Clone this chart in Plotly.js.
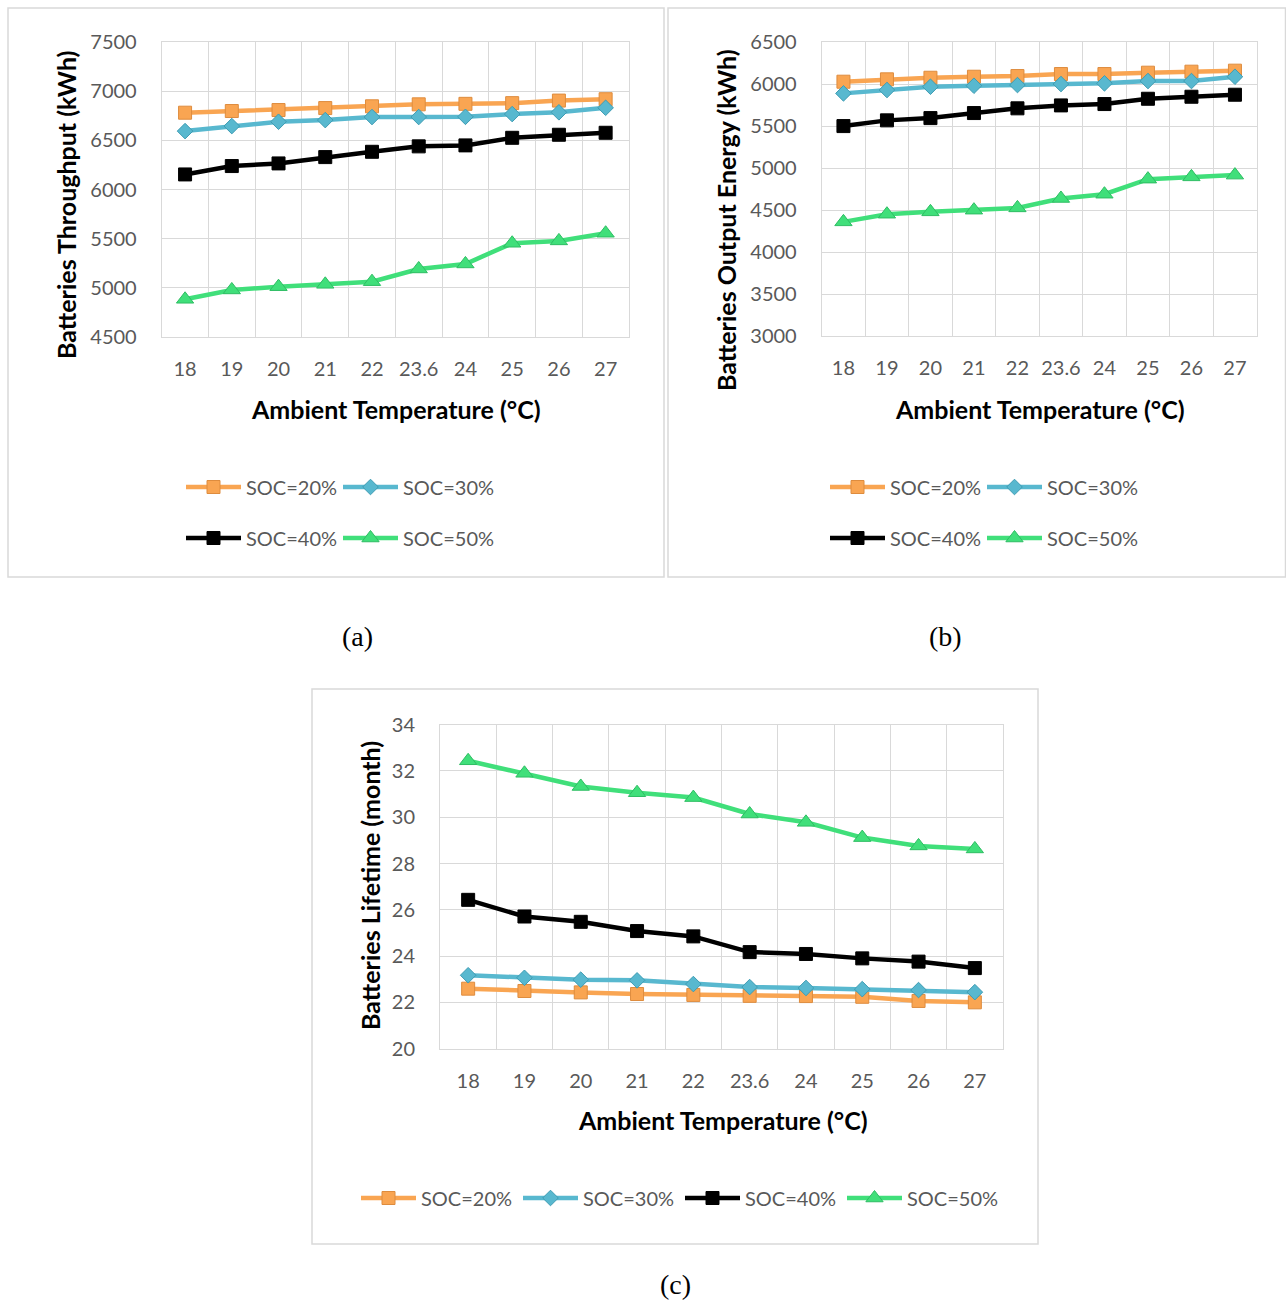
<!DOCTYPE html>
<html><head><meta charset="utf-8">
<script src="https://cdn.plot.ly/plotly-3.0.1.min.js"></script>
<style>html,body{margin:0;padding:0;background:#fff}</style>
</head><body><div id="chart" style="width:1286px;height:1301px"></div>
<script>
// ---- data ----
const temps = ['18','19','20','21','22','23.6','24','25','26','27'];
const seriesNames = ['SOC=20%','SOC=30%','SOC=40%','SOC=50%'];

const throughput20 = [6780, 6797, 6807, 6827, 6845, 6865, 6870, 6877, 6903, 6917];
const throughput30 = [6593, 6644, 6688, 6705, 6736, 6736, 6738, 6766, 6784, 6830];
const throughput40 = [6153, 6238, 6265, 6329, 6383, 6438, 6448, 6525, 6556, 6576];
const throughput50 = [4885, 4980, 5013, 5037, 5064, 5193, 5244, 5454, 5478, 5556];

const output20 = [6028, 6056, 6075, 6087, 6095, 6119, 6119, 6135, 6147, 6159];
const output30 = [5889, 5929, 5968, 5980, 5988, 6000, 6008, 6036, 6036, 6087];
const output40 = [5500, 5568, 5595, 5655, 5711, 5746, 5762, 5825, 5849, 5873];
const output50 = [4361, 4452, 4480, 4500, 4527, 4639, 4690, 4869, 4896, 4917];

const lifetime20 = [22.59, 22.49, 22.43, 22.36, 22.32, 22.28, 22.27, 22.24, 22.06, 22.00];
const lifetime30 = [23.17, 23.06, 22.98, 22.95, 22.79, 22.66, 22.62, 22.57, 22.53, 22.44];
const lifetime40 = [26.43, 25.71, 25.48, 25.08, 24.85, 24.17, 24.09, 23.90, 23.76, 23.48];
const lifetime50 = [32.44, 31.90, 31.33, 31.06, 30.85, 30.14, 29.78, 29.12, 28.76, 28.63];

const titleA = 'Batteries Throughput (kWh)';
const titleB = 'Batteries Output Energy (kWh)';
const titleC = 'Batteries Lifetime (month)';
const xTitle = 'Ambient Temperature (°C)';

// ---- layout helpers ----
const W = 1286, H = 1301;
const px = x => x / W, py = y => (H - y) / H;
const FONT = 'Lato, "Open Sans", sans-serif';
const GRID = '#D9D9D9';
const TICK = '#595959';

const styles = [
  {color:'#F9A552', symbol:'square', size:13, edge:'#DE8C3E'},
  {color:'#58B8CF', symbol:'diamond', size:12, edge:'#3E9CB3'},
  {color:'#000000', symbol:'square', size:13, edge:'#000000'},
  {color:'#40DF7A', symbol:'triangle-up', size:15, edge:'#2EBD63'}
];

function tr(i, y, xa, ya, legend, showlegend) {
  const s = styles[i];
  return {
    type:'scatter', mode:'lines+markers', x: temps, y: y, name: seriesNames[i],
    xaxis: xa, yaxis: ya, legend: legend, showlegend: showlegend,
    line:{color:s.color, width:4.5},
    marker:{symbol:s.symbol, size:s.size, color:s.color, line:{color:s.edge, width:1}}
  };
}

const data = [
  tr(0, throughput20, 'x', 'y', 'legend', true),
  tr(1, throughput30, 'x', 'y', 'legend', true),
  tr(2, throughput40, 'x', 'y', 'legend2', true),
  tr(3, throughput50, 'x', 'y', 'legend2', true),
  tr(0, output20, 'x2', 'y2', 'legend3', true),
  tr(1, output30, 'x2', 'y2', 'legend3', true),
  tr(2, output40, 'x2', 'y2', 'legend4', true),
  tr(3, output50, 'x2', 'y2', 'legend4', true),
  tr(0, lifetime20, 'x3', 'y3', 'legend5', true),
  tr(1, lifetime30, 'x3', 'y3', 'legend5', true),
  tr(2, lifetime40, 'x3', 'y3', 'legend5', true),
  tr(3, lifetime50, 'x3', 'y3', 'legend5', true)
];

function xax(d0, d1, anchor) {
  return {
    domain:[px(d0), px(d1)], anchor: anchor, type:'category', range:[-0.5, 9.5],
    tickson:'boundaries', showgrid:true, gridcolor:GRID, gridwidth:1,
    showline:true, mirror:true, linecolor:GRID, linewidth:1, tickangle:0,
    ticks:'', ticklabelstandoff:14, tickfont:{family:FONT, size:20, color:TICK},
    zeroline:false, fixedrange:true
  };
}
function yax(top, bottom, anchor, rng, dt) {
  return {
    domain:[py(bottom), py(top)], anchor: anchor, range: rng, dtick: dt, tick0: rng[0],
    showgrid:true, gridcolor:GRID, gridwidth:1,
    showline:true, mirror:true, linecolor:GRID, linewidth:1,
    ticks:'', ticklabelstandoff:20, tickfont:{family:FONT, size:20, color:TICK},
    zeroline:false, fixedrange:true
  };
}

function legendAt(x, y, ew) {
  return {x:px(x), y:py(y), xanchor:'left', yanchor:'middle', orientation:'h',
    bgcolor:'rgba(0,0,0,0)', borderwidth:0, font:{family:FONT, size:20, color:TICK},
    entrywidth:ew, entrywidthmode:'pixels', itemwidth:55, traceorder:'normal'};
}

const ttl = {family:FONT, size:25, color:'#000000', weight:'bold'};
const ttlY = {family:FONT, size:25, color:'#000000', weight:'bold'};
const cap = {family:'"Liberation Serif", "Times New Roman", serif', size:28, color:'#000000'};

function ann(text, x, y, font, angle) {
  return {text:text, xref:'paper', yref:'paper', x:px(x), y:py(y),
    xanchor:'center', yanchor:'middle', showarrow:false, font:font, textangle: angle || 0};
}

function box(x0, y0, x1, y1) {
  return {type:'rect', xref:'paper', yref:'paper', x0:px(x0), x1:px(x1), y0:py(y1), y1:py(y0),
    line:{color:GRID, width:1.5}, fillcolor:'rgba(0,0,0,0)', layer:'below'};
}

const layout = {
  width:W, height:H, margin:{l:0, r:0, t:0, b:0},
  paper_bgcolor:'#ffffff', plot_bgcolor:'#ffffff',
  xaxis: xax(161.7, 629, 'y'),
  yaxis: yax(41.8, 337.2, 'x', [4500, 7500], 500),
  xaxis2: xax(821.7, 1256.7, 'y2'),
  yaxis2: yax(42, 336.3, 'x2', [3000, 6500], 500),
  xaxis3: xax(440, 1003, 'y3'),
  yaxis3: yax(724.7, 1048.6, 'x3', [20, 34], 2),
  legend: legendAt(181, 487, 87),
  legend2: legendAt(181, 538, 87),
  legend3: legendAt(825, 487, 87),
  legend4: legendAt(825, 538, 87),
  legend5: legendAt(356, 1198, 92),
  shapes:[ box(8, 8, 664, 577), box(668, 8, 1285.5, 577), box(312, 689, 1038, 1244) ],
  annotations:[
    ann(titleA, 66, 205, ttlY, -90),
    ann(titleB, 726, 220, ttlY, -90),
    ann(titleC, 370, 886, ttlY, -90),
    ann(xTitle, 396, 409, ttl),
    ann(xTitle, 1040, 409, ttl),
    ann(xTitle, 723, 1120, ttl),
    ann('(a)', 357, 636, cap),
    ann('(b)', 945, 636, cap),
    ann('(c)', 675, 1284, cap)
  ],
  hovermode:false
};

Plotly.newPlot('chart', data, layout, {displayModeBar:false, staticPlot:true});
</script>
</body></html>
